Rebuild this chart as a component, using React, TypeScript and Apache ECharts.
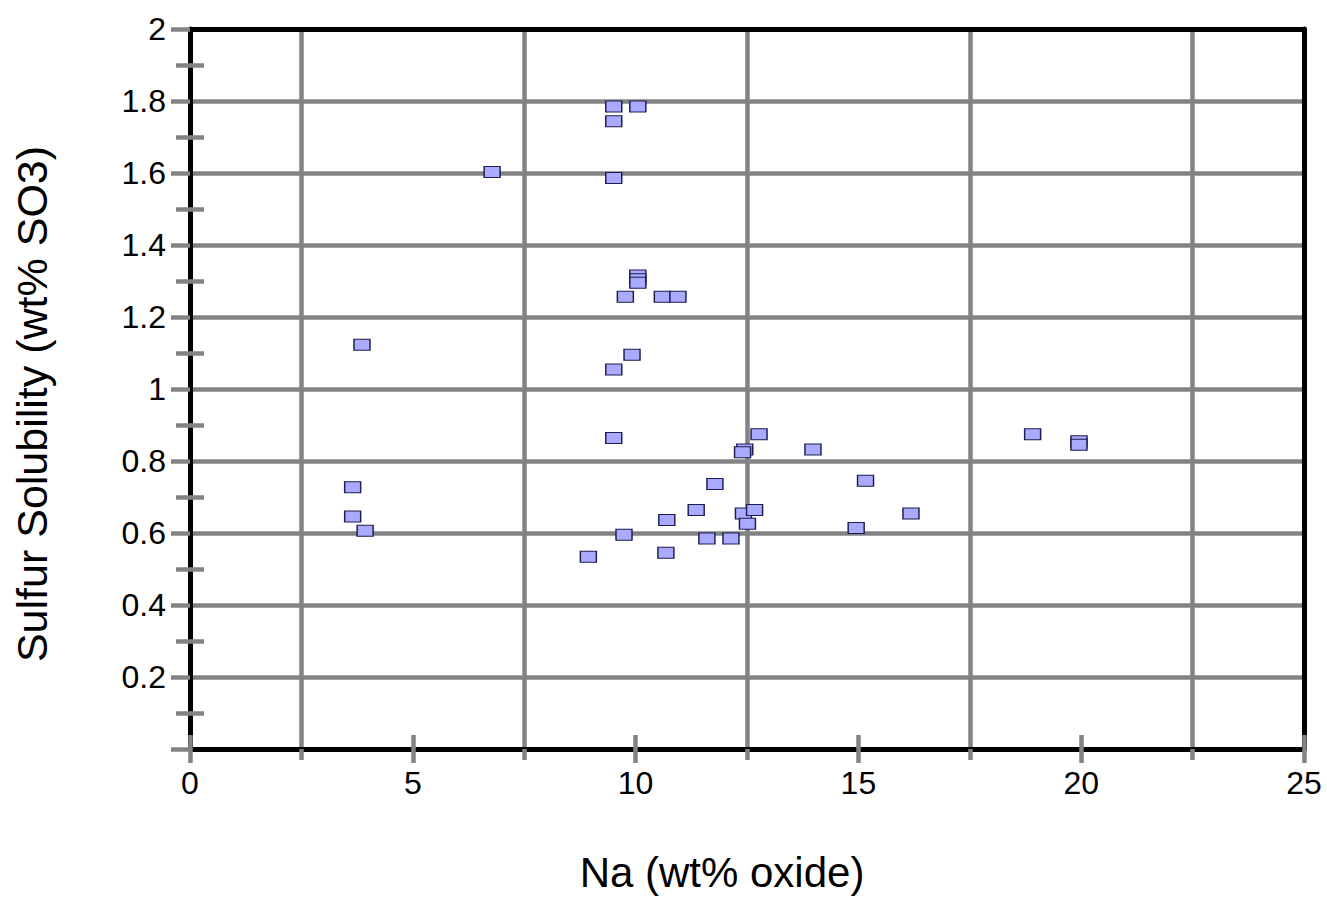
import React, { useEffect, useRef } from "react";
import * as echarts from "echarts";

const naValues = [3.65, 3.65, 3.93, 3.86, 6.78, 9.51, 10.05, 9.51, 9.51, 10.05, 10.05, 10.05, 9.77, 10.6, 10.95, 9.92, 9.51, 9.51, 12.77, 12.45, 12.4, 13.98, 11.78, 11.36, 10.7, 12.42, 12.67, 12.51, 9.74, 11.6, 12.14, 8.94, 10.68, 14.95, 15.16, 16.18, 18.91, 19.95, 19.95];
const so3Values = [0.727, 0.646, 0.606, 1.123, 1.603, 1.785, 1.785, 1.744, 1.586, 1.315, 1.305, 1.295, 1.256, 1.256, 1.256, 1.095, 1.054, 0.864, 0.874, 0.832, 0.824, 0.832, 0.736, 0.664, 0.636, 0.654, 0.664, 0.626, 0.595, 0.585, 0.585, 0.534, 0.545, 0.614, 0.745, 0.654, 0.874, 0.855, 0.845];

const xTitle = "Na (wt% oxide)";
const yTitle = "Sulfur Solubility (wt% SO3)";

const GREY = "#838383";
const FONT = "'Liberation Sans', Arial, sans-serif";

export default function App() {
  const ref = useRef<HTMLDivElement>(null);
  useEffect(() => {
    if (!ref.current) return;
    const chart = echarts.init(ref.current, null, { renderer: "svg" });
    const data = naValues.map((x, i) => [x, so3Values[i]]);
    chart.setOption({
      animation: false,
      backgroundColor: "#ffffff",
      grid: { left: 190, right: 23, top: 29, bottom: 134, containLabel: false },
      xAxis: [
        {
          type: "value",
          position: "bottom",
          min: 0,
          max: 25,
          interval: 5,
          name: xTitle,
          nameLocation: "middle",
          nameGap: 102,
          nameTextStyle: { fontFamily: FONT, fontSize: 42, color: "#000", padding: [0, 50, 0, 0] },
          axisLine: { show: true, onZero: false, lineStyle: { color: "#000", width: 5 } },
          axisTick: { show: true, inside: true, length: 14, lineStyle: { color: GREY, width: 4.5 } },
          axisLabel: { show: true, margin: 18, fontFamily: FONT, fontSize: 32, color: "#000" },
          splitLine: { show: false },
          minorTick: { show: false, splitNumber: 2 },
          minorSplitLine: { show: true, lineStyle: { color: GREY, width: 4.5 } },
        },
        {
          type: "value",
          position: "bottom",
          min: 0,
          max: 25,
          interval: 5,
          axisLine: { show: false, onZero: false },
          axisTick: { show: true, inside: false, length: 14, lineStyle: { color: GREY, width: 4.5 } },
          axisLabel: { show: false },
          splitLine: { show: false },
          minorTick: { show: true, splitNumber: 2, length: 11, lineStyle: { color: GREY, width: 4.5 } },
        },
        {
          type: "value",
          position: "top",
          min: 0,
          max: 25,
          interval: 5,
          axisLine: { show: true, onZero: false, lineStyle: { color: "#000", width: 5 } },
          axisTick: { show: false },
          axisLabel: { show: false },
          splitLine: { show: false },
        },
      ],
      yAxis: [
        {
          type: "value",
          position: "left",
          min: 0,
          max: 2,
          interval: 0.2,
          name: yTitle,
          nameLocation: "middle",
          nameGap: 137,
          nameRotate: 90,
          nameTextStyle: { fontFamily: FONT, fontSize: 43, color: "#000", padding: [0, 30, 0, 0] },
          axisLine: { show: true, onZero: false, lineStyle: { color: "#000", width: 5 } },
          axisTick: { show: true, inside: false, length: 19, lineStyle: { color: GREY, width: 4.5 } },
          axisLabel: {
            show: true,
            margin: 24,
            fontFamily: FONT,
            fontSize: 32,
            color: "#000",
            formatter: (v: number) => (v === 0 ? "" : String(Math.round(v * 10) / 10)),
          },
          splitLine: { show: true, lineStyle: { color: GREY, width: 4.5 } },
          minorTick: { show: true, splitNumber: 2, length: 14, lineStyle: { color: GREY, width: 4.5 } },
        },
        {
          type: "value",
          position: "left",
          min: 0,
          max: 2,
          interval: 0.2,
          axisLine: { show: false, onZero: false },
          axisTick: { show: false, inside: true },
          axisLabel: { show: false },
          splitLine: { show: false },
          minorTick: { show: true, splitNumber: 2, length: 14, lineStyle: { color: GREY, width: 4.5 } },
        },
        {
          type: "value",
          position: "right",
          min: 0,
          max: 2,
          interval: 0.2,
          axisLine: { show: true, onZero: false, lineStyle: { color: "#000", width: 5 } },
          axisTick: { show: false },
          axisLabel: { show: false },
          splitLine: { show: false },
        },
      ],
      series: [
        {
          type: "scatter",
          xAxisIndex: 0,
          yAxisIndex: 0,
          data,
          symbol: "rect",
          symbolSize: [16, 11],
          itemStyle: { color: "#aaaaff", borderColor: "#1c1c50", borderWidth: 1.2, opacity: 1 },
          z: 5,
        },
      ],
    });
    return () => chart.dispose();
  }, []);
  return (
    <div
      ref={ref}
      style={{ position: "fixed", left: 0, top: 0, width: 1327, height: 898, background: "#fff" }}
    />
  );
}
